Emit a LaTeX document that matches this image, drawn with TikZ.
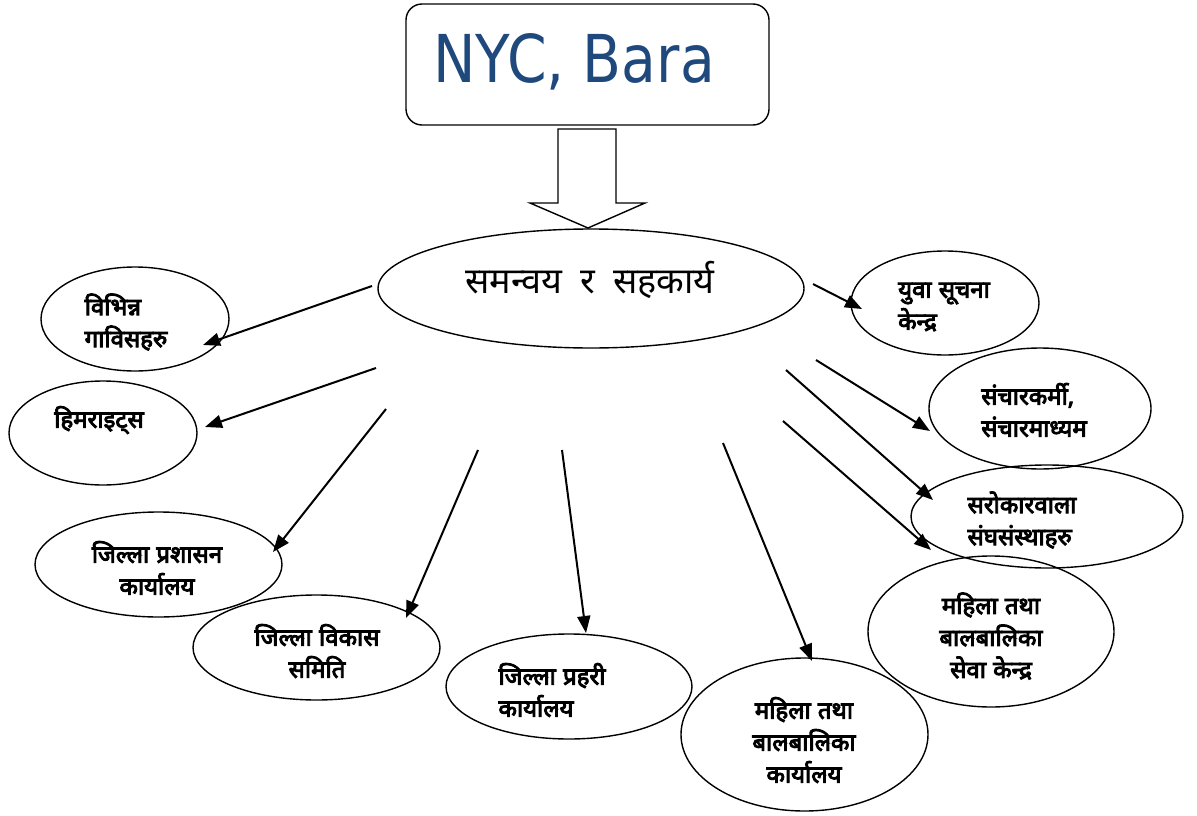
\documentclass[tikz,border=0pt]{standalone}
\usepackage{fontspec}
\usetikzlibrary{arrows.meta,shapes.geometric}
\newfontfamily\dev[Script=Devanagari]{Noto Sans}
\newfontfamily\devb[Script=Devanagari,FakeBold=4]{Noto Sans}
\newfontfamily\nycfont[FakeStretch=0.86]{DejaVu Sans}
\definecolor{nycblue}{HTML}{1F497D}
\begin{document}
\begin{tikzpicture}[x=1pt,y=-1pt,
  oval/.style={draw,ellipse,line width=1.4pt,inner sep=0pt},
  lbl/.style={font=\devb\fontsize{24}{32}\selectfont,inner sep=0pt},
  conn/.style={line width=2pt,-{Triangle[length=17pt,width=13pt]}}]
\useasboundingbox (0,0) rectangle (1197,816);
% top box
\node[draw,rounded corners=16pt,line width=1.4pt,minimum width=363pt,minimum height=121pt,inner sep=0pt] (nyc) at (587.5,64.5) {};
\node[font=\nycfont\fontsize{66}{70}\selectfont,text=nycblue,inner sep=0pt] (nyct) at (574,62) {NYC, Bara};
% block arrow
\draw[line width=1.4pt,fill=white] (558,129) -- (616,129) -- (616,203) -- (645,203) -- (588,228) -- (530,203) -- (558,203) -- cycle;
% center
\node[oval,minimum width=426pt,minimum height=119pt] (c) at (591,288.5) {};
\node[font=\dev\fontsize{36}{40}\selectfont,inner sep=0pt] (ct) at (590,280) {समन्वय\hspace{0.5em}र\hspace{0.5em}सहकार्य};
% ellipses
\node[oval,minimum width=188pt,minimum height=104pt] (e1) at (135,319) {};
\node[oval,minimum width=188pt,minimum height=104pt] (e2) at (103,433) {};
\node[oval,minimum width=247pt,minimum height=105pt] (e3) at (158.5,564.5) {};
\node[oval,minimum width=247pt,minimum height=105pt] (e4) at (316.5,647.5) {};
\node[oval,minimum width=246pt,minimum height=105pt] (e5) at (569,686.5) {};
\node[oval,minimum width=247pt,minimum height=153pt] (e6) at (804.5,734.5) {};
\node[oval,minimum width=246pt,minimum height=151pt] (e7) at (991,631.5) {};
\node[oval,minimum width=272pt,minimum height=103pt] (e8) at (1047,516.5) {};
\node[oval,minimum width=222pt,minimum height=121pt] (e9) at (1040,408.5) {};
\node[oval,minimum width=188pt,minimum height=104pt] (e10) at (945,303) {};
% labels
\node[lbl,align=left] (t1) at (126,322) {विभिन्न\\गाविसहरु};
\node[lbl] (t2) at (99,420) {हिमराइट्स};
\node[lbl,align=center] (t3) at (157,568) {जिल्ला\hspace{0.3em}प्रशासन\\कार्यालय};
\node[lbl,align=center] (t4) at (317,651) {जिल्ला\hspace{0.3em}विकास\\समिति};
\node[lbl,align=left] (t5) at (552,690) {जिल्ला\hspace{0.3em}प्रहरी\\कार्यालय};
\node[lbl,align=center] (t6) at (804,740) {महिला\hspace{0.3em}तथा\\बालबालिका\\कार्यालय};
\node[lbl,align=center] (t7) at (991,636) {महिला\hspace{0.3em}तथा\\बालबालिका\\सेवा\hspace{0.3em}केन्द्र};
\node[lbl,align=left] (t8) at (1022,520) {सरोकारवाला\\संघसंस्थाहरु};
\node[lbl,align=left] (t9) at (1034,410) {संचारकर्मी,\\संचारमाध्यम};
\node[lbl,align=left] (t10) at (944,307) {युवा\hspace{0.3em}सूचना\\केन्द्र};
% connector ends
\coordinate (s1) at (372,286); \coordinate (d1) at (203,345);
\coordinate (s2) at (376,368); \coordinate (d2) at (205,427);
\coordinate (s3) at (386,409); \coordinate (d3) at (273,552);
\coordinate (s4) at (478,450); \coordinate (d4) at (406,618);
\coordinate (s5) at (562,450); \coordinate (d5) at (586,633);
\coordinate (s6) at (723,443); \coordinate (d6) at (812,661);
\coordinate (s7) at (783,421); \coordinate (d7) at (931,550);
\coordinate (s8) at (786,370); \coordinate (d8) at (933,500);
\coordinate (s9) at (816,360); \coordinate (d9) at (930,431);
\coordinate (s10) at (813,284); \coordinate (d10) at (862,309);
\foreach \i in {1,...,10} {\draw[conn] (s\i) -- (d\i);}
\end{tikzpicture}
\end{document}
